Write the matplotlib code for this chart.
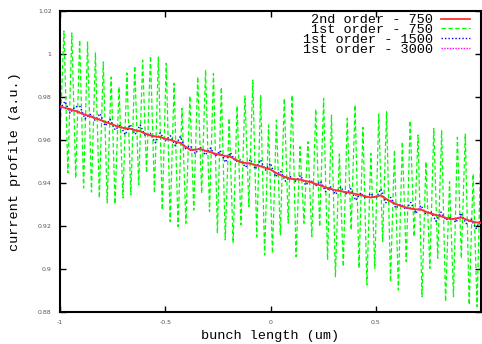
import numpy as np
import matplotlib
matplotlib.use("Agg")
import matplotlib.pyplot as plt

# ---------------- data ----------------
green_peaks = [1.0107, 1.0098, 1.0065, 1.0056, 1.0005, 0.9963, 0.9893, 0.9847, 0.9912, 0.9944, 0.9972, 0.9991, 0.9986,
               0.9957, 0.9864, 0.9747, 0.9805, 0.9894, 0.9926, 0.9910, 0.9845, 0.9701, 0.9758, 0.9805, 0.9879, 0.9809,
               0.9670, 0.9693, 0.9794, 0.9809, 0.9569, 0.9592, 0.9743, 0.9794, 0.9716, 0.9535, 0.9701, 0.9763, 0.9659, 0.9538,
               0.9721, 0.9732, 0.9553, 0.9592, 0.9690, 0.9623, 0.9499, 0.9654, 0.9643, 0.9406, 0.9613, 0.9628, 0.9442, 0.9587]
green_troughs = [0.9610,
                 0.9447, 0.9423, 0.9377, 0.9358, 0.9330, 0.9307, 0.9302, 0.9330, 0.9344, 0.9391, 0.9447, 0.9353, 0.9274,
                 0.9220, 0.9197, 0.9213, 0.9274, 0.9352, 0.9267, 0.9166, 0.9135, 0.9120, 0.9205, 0.9290, 0.9150, 0.9065,
                 0.9073, 0.9158, 0.9213, 0.9057, 0.9213, 0.9150, 0.9197, 0.9042, 0.8964, 0.9011, 0.9181, 0.9003, 0.8926,
                 0.9003, 0.9127, 0.8941, 0.8902, 0.9034, 0.9150, 0.8871, 0.9003, 0.9050, 0.8848, 0.8871, 0.9050, 0.8833, 0.8825]

red_750 = [0.9755, 0.9744, 0.9726, 0.9710, 0.9693, 0.9676, 0.9659, 0.9652, 0.9640, 0.9621, 0.9613, 0.9600,
           0.9586, 0.9553, 0.9558, 0.9543, 0.9530, 0.9522, 0.9497, 0.9490, 0.9478, 0.9462, 0.9436, 0.9420,
           0.9415, 0.9404, 0.9388, 0.9372, 0.9362, 0.9354, 0.9344, 0.9332, 0.9342, 0.9313, 0.9293, 0.9280,
           0.9276, 0.9258, 0.9245, 0.9231, 0.9240, 0.9222, 0.9213]

blue_1500 = [0.9745, 0.9780, 0.9724, 0.9755, 0.9756, 0.9698, 0.9720, 0.9691, 0.9723, 0.9665, 0.9696, 0.9647,
             0.9669, 0.9625, 0.9672, 0.9626, 0.9670, 0.9620, 0.9631, 0.9587, 0.9633, 0.9596, 0.9620, 0.9573,
             0.9616, 0.9560, 0.9573, 0.9536, 0.9568, 0.9530, 0.9563, 0.9526, 0.9550, 0.9496, 0.9542, 0.9500,
             0.9507, 0.9473, 0.9510, 0.9464, 0.9508, 0.9460, 0.9492, 0.9429, 0.9456, 0.9408, 0.9430, 0.9408,
             0.9435, 0.9390, 0.9414, 0.9386, 0.9408, 0.9360, 0.9382, 0.9347, 0.9382, 0.9348, 0.9374, 0.9319,
             0.9354, 0.9328, 0.9352, 0.9327, 0.9372, 0.9308, 0.9333, 0.9283, 0.9303, 0.9277, 0.9310, 0.9258,
             0.9296, 0.9257, 0.9268, 0.9222, 0.9265, 0.9228, 0.9241, 0.9216, 0.9260, 0.9211, 0.9232, 0.9188,
             0.9233]

magenta_3000 = [0.9760, 0.9748, 0.9740, 0.9738, 0.9730, 0.9714, 0.9715, 0.9700, 0.9698, 0.9680, 0.9680, 0.9662,
                0.9663, 0.9650, 0.9656, 0.9641, 0.9645, 0.9626, 0.9625, 0.9612, 0.9618, 0.9600, 0.9604, 0.9588,
                0.9590, 0.9566, 0.9558, 0.9550, 0.9562, 0.9545, 0.9548, 0.9530, 0.9536, 0.9520, 0.9527, 0.9505,
                0.9500, 0.9488, 0.9495, 0.9478, 0.9482, 0.9466, 0.9468, 0.9445, 0.9440, 0.9424, 0.9425, 0.9414,
                0.9420, 0.9405, 0.9408, 0.9392, 0.9393, 0.9376, 0.9377, 0.9362, 0.9367, 0.9354, 0.9358, 0.9343,
                0.9348, 0.9333, 0.9337, 0.9332, 0.9346, 0.9323, 0.9318, 0.9298, 0.9297, 0.9282, 0.9285, 0.9273,
                0.9280, 0.9262, 0.9262, 0.9248, 0.9250, 0.9234, 0.9236, 0.9230, 0.9245, 0.9226, 0.9226, 0.9214,
                0.9218]

labels = ["2nd order - 750", "1st order - 750", "1st order - 1500", "1st order - 3000"]
xticks = [-1, -0.5, 0, 0.5]
xtick_labels = ["-1", "-0.5", "0", "0.5"]
yticks = [0.88, 0.90, 0.92, 0.94, 0.96, 0.98, 1.00, 1.02]
ytick_labels = ["0.88", "0.9", "0.92", "0.94", "0.96", "0.98", "1", "1.02"]

# interleave green troughs/peaks
green = []
for t, p in zip(green_troughs, green_peaks):
    green.extend([t, p])

def xs(v):
    return np.linspace(-1, 1, len(v))

# ---------------- plot ----------------
mono = "Liberation Mono"
fig = plt.figure(figsize=(4.82, 3.44), dpi=100)
ax = fig.add_axes([60 / 482, 32 / 344, 421 / 482, 301 / 344])

ax.plot(xs(red_750), red_750, color="#ff3030", lw=1.3, label=labels[0], zorder=5)
ax.plot(xs(green), green, color="#00ff00", lw=0.9, ls=(0, (3.5, 2)), label=labels[1], zorder=2)
ax.plot(xs(blue_1500), blue_1500, color="#0000ff", lw=1.0, ls=(0, (1, 1.5)), label=labels[2], zorder=3)
ax.plot(xs(magenta_3000), magenta_3000, color="#ff00ff", lw=1.0, ls=(0, (1, 1)), label=labels[3], zorder=4)

ax.set_xlim(-1, 1)
ax.set_ylim(0.88, 1.02)
ax.set_xticks(xticks)
ax.set_xticklabels(xtick_labels)
ax.set_yticks(yticks)
ax.set_yticklabels(ytick_labels)
ax.tick_params(direction="in", top=True, right=True, length=4, width=1,
               labelsize=4.5, labelcolor="#555555", pad=6)
for s in ax.spines.values():
    s.set_linewidth(1.5)

ax.set_xlabel("bunch length (um)", fontfamily=mono, fontsize=9.7, labelpad=3)
ax.set_ylabel("current profile (a.u.)", fontfamily=mono, fontsize=9.7, labelpad=12)

leg = ax.legend(loc="upper right", bbox_to_anchor=(0.975, 0.99), frameon=False,
                markerfirst=False, prop={"family": mono, "size": 9.7},
                labelspacing=-0.2, handlelength=2.2, handletextpad=0.6,
                borderaxespad=0.0, borderpad=0.0)
for t in leg.get_texts():
    t.set_ha("right")
    t.set_position((0, 0))
leg._legend_box.align = "right"

fig.savefig("out.png", dpi=100)
